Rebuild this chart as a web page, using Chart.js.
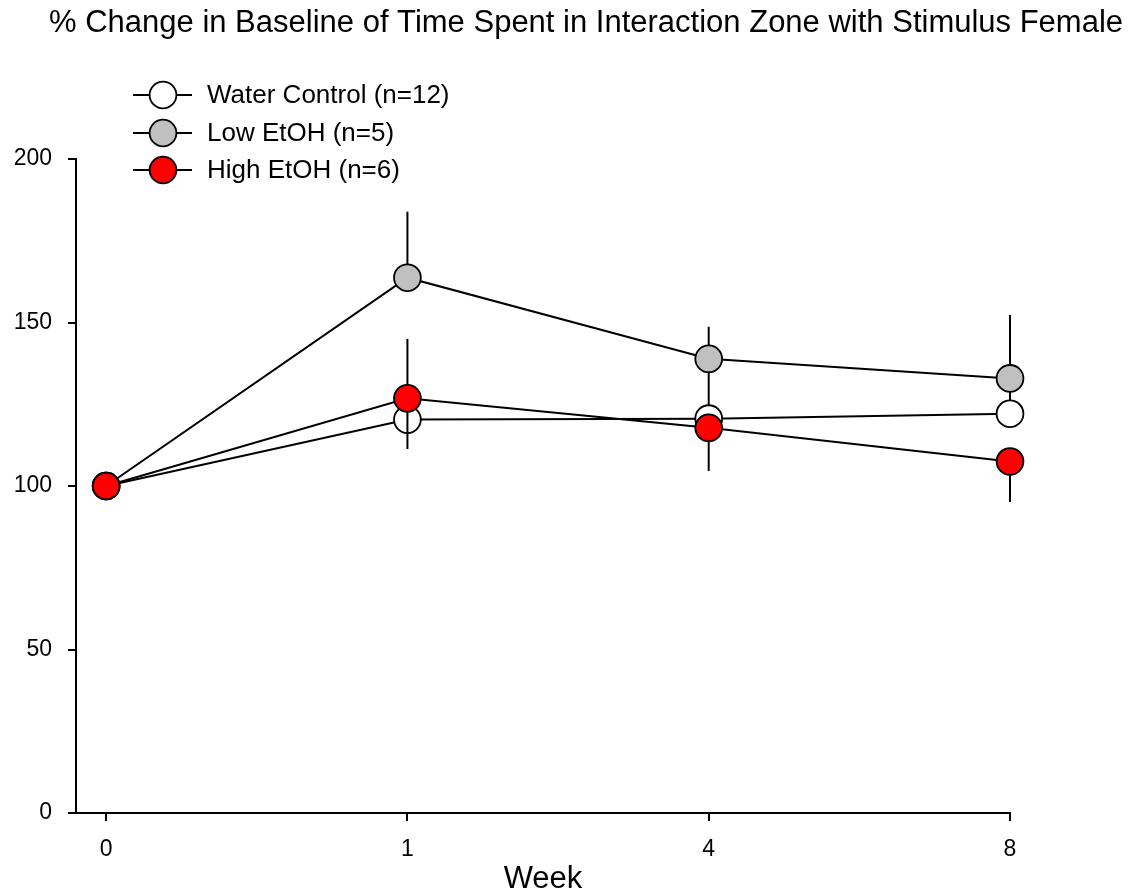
<!DOCTYPE html>
<html>
<head>
<meta charset="utf-8">
<title>Interaction Zone</title>
<script src="https://cdn.jsdelivr.net/npm/chart.js@4.4.1/dist/chart.umd.min.js"></script>
<style>
    html, body { margin: 0; padding: 0; background: #fff; }
    #wrap { width: 1140px; height: 895px; }
</style>
</head>
<body>
<div id="wrap"><canvas id="chart" width="1140" height="895"></canvas></div>
<script>
// weeks on the x axis, plotted at equal spacing
const weekLabels = ["0", "1", "4", "8"];
const weekIndex = [0, 1, 2, 3];

const seriesNames = ["Water Control (n=12)", "Low EtOH (n=5)", "High EtOH (n=6)"];

const waterMean = [100, 120.3, 120.6, 122.1];
const lowMean = [100, 163.7, 138.9, 132.9];
const highMean = [100, 126.8, 117.8, 107.5];

// SEM, each group only drawn in one direction
const waterSem = [0, 24.7, 15, 9];
const lowSem = [0, 20.2, 9.8, 19.4];
const highSem = [0, 15.5, 13.2, 12.4];

const yTicks = [0, 50, 100, 150, 200];

const FONT = "'Liberation Sans', Arial, sans-serif";

function toPoints(values) {
    return values.map((v, i) => ({ x: weekIndex[i], y: v }));
}

function makeSet(i, values, fill, sem, dir, order) {
    return {
        label: seriesNames[i],
        data: toPoints(values),
        sem: sem,
        semDir: dir,
        order: order,
        borderColor: "#000",
        borderWidth: 2,
        backgroundColor: fill,
        pointBackgroundColor: fill,
        pointBorderColor: "#000",
        pointBorderWidth: 1.8,
        pointRadius: 13.4,
        pointHoverRadius: 13.4,
        tension: 0,
        clip: false
    };
}

const errorBars = {
    id: "errorBars",
    beforeDatasetDraw(chart, args) {
        const ds = chart.data.datasets[args.index];
        const xs = chart.scales.x, ys = chart.scales.y;
        const ctx = chart.ctx;
        ctx.save();
        ctx.strokeStyle = "#000";
        ctx.lineWidth = 2;
        ds.data.forEach((p, i) => {
            const e = ds.sem[i];
            if (!e) return;
            const px = xs.getPixelForValue(p.x);
            ctx.beginPath();
            ctx.moveTo(px, ys.getPixelForValue(p.y));
            ctx.lineTo(px, ys.getPixelForValue(p.y + ds.semDir * e));
            ctx.stroke();
        });
        ctx.restore();
    }
};

const titleAndKey = {
    id: "titleAndKey",
    afterDraw(chart) {
        const ctx = chart.ctx;
        ctx.save();
        ctx.fillStyle = "#000";
        ctx.font = "31px " + FONT;
        ctx.textAlign = "left";
        ctx.textBaseline = "middle";
        ctx.fillText("% Change in Baseline of Time Spent in Interaction Zone with Stimulus Female", 49, 23);

        // key in the upper left, same order as the names
        const rows = [95, 133, 170];
        [0, 1, 2].forEach((k, r) => {
            const ds = chart.data.datasets[k];
            const y = rows[r];
            ctx.strokeStyle = "#000";
            ctx.lineWidth = 2;
            ctx.beginPath();
            ctx.moveTo(133, y);
            ctx.lineTo(192, y);
            ctx.stroke();
            ctx.beginPath();
            ctx.arc(163, y, 13.4, 0, Math.PI * 2);
            ctx.fillStyle = ds.pointBackgroundColor;
            ctx.fill();
            ctx.lineWidth = 1.8;
            ctx.stroke();
            ctx.fillStyle = "#000";
            ctx.font = "26px " + FONT;
            ctx.fillText(ds.label, 207, y + 1);
        });
        ctx.restore();
    }
};

const data = {
    datasets: [
        makeSet(0, waterMean, "#ffffff", waterSem, 1, 3),
        makeSet(1, lowMean, "#c0c0c0", lowSem, 1, 2),
        makeSet(2, highMean, "#ff0000", highSem, -1, 1)
    ]
};

const config = {
    type: "line",
    data: data,
    options: {
        responsive: false,
        animation: false,
        layout: { padding: { top: 159, right: 130, bottom: 0, left: 0 } },
        plugins: {
            legend: { display: false },
            title: { display: false },
            tooltip: { enabled: false }
        },
        scales: {
            x: {
                type: "linear",
                min: -0.1,
                max: 3,
                afterBuildTicks: (s) => { s.ticks = weekIndex.map(v => ({ value: v })); },
                afterFit: (s) => { s.height = 82; },
                ticks: {
                    color: "#000",
                    font: { family: FONT, size: 23 },
                    padding: 15,
                    maxRotation: 0,
                    callback: (v) => weekLabels[v]
                },
                grid: { drawOnChartArea: false, drawTicks: true, tickLength: 8, color: "#000", lineWidth: 2 },
                border: { color: "#000", width: 2 },
                title: {
                    display: true,
                    text: "Week",
                    color: "#000",
                    font: { family: FONT, size: 31, lineHeight: 1 },
                    padding: { top: 0, bottom: 0 }
                }
            },
            y: {
                min: 0,
                max: 200,
                afterBuildTicks: (s) => { s.ticks = yTicks.map(v => ({ value: v })); },
                afterFit: (s) => { s.width = 76; },
                ticks: {
                    color: "#000",
                    font: { family: FONT, size: 23 },
                    padding: 16
                },
                grid: { drawOnChartArea: false, drawTicks: true, tickLength: 8, color: "#000", lineWidth: 2 },
                border: { color: "#000", width: 2 }
            }
        }
    },
    plugins: [errorBars, titleAndKey]
};

function createChart() {
    const chart = new Chart(document.getElementById("chart"), config);
    return chart;
}

createChart();
</script>
</body>
</html>
